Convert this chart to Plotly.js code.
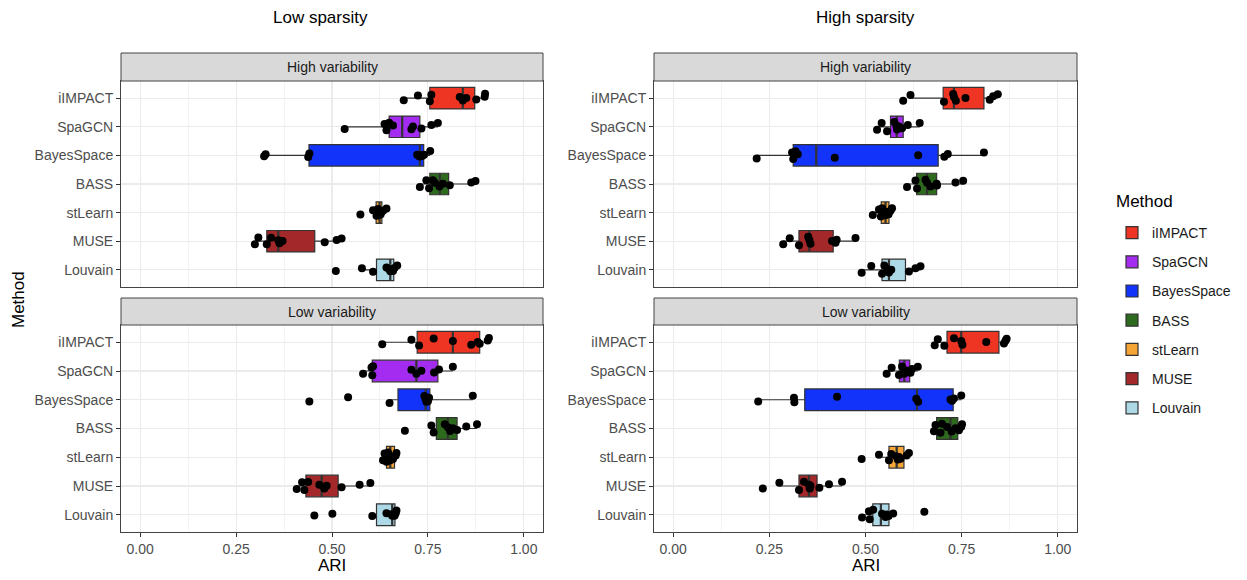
<!DOCTYPE html>
<html><head><meta charset="utf-8">
<script src="https://cdn.plot.ly/plotly-3.0.1.min.js"></script>
<style>html,body{margin:0;padding:0;background:#fff;} #chart{width:1247px;height:580px;}</style>
</head><body><div id="chart"></div>
<script>
// ---------------- DATA ----------------
const methods = ['iIMPACT','SpaGCN','BayesSpace','BASS','stLearn','MUSE','Louvain'];
const methodColors = ['#EE3524','#A32CF0','#1133FA','#2E6A1E','#F5A536','#A3282A','#ADD8E6'];
const xTickVals = [0, 0.25, 0.5, 0.75, 1];
const xTickText = ['0.00','0.25','0.50','0.75','1.00'];

// Low sparsity / High variability (ARI per replicate, method order as above)
const lowSpHighVarPoints = [
  [0.687,0.724,0.755,0.759,0.833,0.841,0.850,0.876,0.898,0.899],
  [0.533,0.637,0.642,0.649,0.659,0.707,0.711,0.733,0.759,0.776],
  [0.323,0.327,0.438,0.441,0.722,0.728,0.732,0.735,0.740,0.756],
  [0.729,0.746,0.753,0.763,0.768,0.780,0.789,0.807,0.863,0.874],
  [0.574,0.607,0.616,0.620,0.622,0.624,0.626,0.627,0.633,0.642],
  [0.299,0.308,0.330,0.341,0.360,0.363,0.371,0.481,0.512,0.525],
  [0.510,0.578,0.607,0.642,0.649,0.652,0.655,0.659,0.663,0.670]
];
const lowSpHighVarQ1     = [0.755,0.649,0.440,0.755,0.615,0.330,0.616];
const lowSpHighVarMedian = [0.841,0.683,0.729,0.781,0.624,0.360,0.652];
const lowSpHighVarQ3     = [0.872,0.729,0.739,0.804,0.630,0.455,0.661];
const lowSpHighVarLower  = [0.687,0.533,0.323,0.729,0.607,0.299,0.578];
const lowSpHighVarUpper  = [0.899,0.776,0.756,0.874,0.642,0.525,0.670];

// High sparsity / High variability
const highSpHighVarPoints = [
  [0.598,0.617,0.704,0.728,0.730,0.735,0.760,0.823,0.832,0.844],
  [0.530,0.542,0.556,0.575,0.580,0.582,0.587,0.595,0.610,0.641],
  [0.217,0.309,0.312,0.318,0.324,0.420,0.637,0.705,0.714,0.808],
  [0.608,0.630,0.634,0.656,0.660,0.669,0.685,0.686,0.734,0.754],
  [0.519,0.535,0.540,0.543,0.548,0.552,0.556,0.560,0.565,0.569],
  [0.286,0.303,0.327,0.351,0.354,0.357,0.413,0.422,0.425,0.474],
  [0.490,0.515,0.543,0.549,0.555,0.561,0.567,0.613,0.630,0.643]
];
const highSpHighVarQ1     = [0.702,0.565,0.312,0.633,0.541,0.327,0.543];
const highSpHighVarMedian = [0.730,0.581,0.372,0.660,0.552,0.354,0.561];
const highSpHighVarQ3     = [0.808,0.598,0.689,0.685,0.561,0.416,0.604];
const highSpHighVarLower  = [0.617,0.530,0.217,0.608,0.519,0.286,0.490];
const highSpHighVarUpper  = [0.844,0.641,0.808,0.754,0.569,0.474,0.643];

// Low sparsity / Low variability
const lowSpLowVarPoints = [
  [0.631,0.707,0.727,0.765,0.815,0.863,0.880,0.885,0.906,0.909],
  [0.581,0.603,0.605,0.607,0.707,0.720,0.733,0.766,0.779,0.815],
  [0.441,0.542,0.650,0.741,0.744,0.746,0.748,0.750,0.753,0.867],
  [0.690,0.759,0.765,0.794,0.802,0.808,0.815,0.826,0.850,0.878],
  [0.633,0.637,0.642,0.646,0.650,0.652,0.655,0.659,0.666,0.668],
  [0.408,0.422,0.428,0.438,0.467,0.480,0.486,0.525,0.572,0.600],
  [0.454,0.501,0.605,0.642,0.655,0.657,0.659,0.663,0.666,0.668]
];
const lowSpLowVarQ1     = [0.722,0.605,0.672,0.772,0.642,0.432,0.616];
const lowSpLowVarMedian = [0.815,0.720,0.744,0.802,0.652,0.473,0.657];
const lowSpLowVarQ3     = [0.885,0.776,0.755,0.826,0.663,0.516,0.664];
const lowSpLowVarLower  = [0.631,0.581,0.650,0.759,0.633,0.408,0.605];
const lowSpLowVarUpper  = [0.909,0.815,0.867,0.878,0.668,0.600,0.668];

// High sparsity / Low variability
const highSpLowVarPoints = [
  [0.680,0.688,0.705,0.730,0.749,0.752,0.814,0.860,0.864,0.867],
  [0.555,0.568,0.587,0.595,0.600,0.601,0.608,0.617,0.621,0.636],
  [0.221,0.314,0.315,0.426,0.632,0.637,0.721,0.725,0.730,0.749],
  [0.678,0.682,0.695,0.699,0.712,0.724,0.734,0.743,0.749,0.751],
  [0.490,0.535,0.561,0.567,0.580,0.584,0.587,0.591,0.607,0.613],
  [0.233,0.276,0.327,0.340,0.353,0.355,0.357,0.380,0.405,0.439],
  [0.491,0.509,0.511,0.520,0.543,0.552,0.556,0.560,0.572,0.653]
];
const highSpLowVarQ1     = [0.712,0.588,0.342,0.685,0.561,0.327,0.519];
const highSpLowVarMedian = [0.749,0.601,0.634,0.721,0.581,0.353,0.540];
const highSpLowVarQ3     = [0.847,0.615,0.728,0.740,0.600,0.374,0.561];
const highSpLowVarLower  = [0.680,0.555,0.221,0.678,0.535,0.276,0.491];
const highSpLowVarUpper  = [0.867,0.636,0.749,0.751,0.613,0.439,0.572];

// ---------------- LAYOUT HELPERS ----------------
const W = 1247, H = 580;
const FONT = 'Liberation Sans, Arial, Helvetica, sans-serif';
const px = v => v / W;
const py = v => 1 - v / H;
const leftX = [121, 543], rightX = [654, 1077];
const topY = [81, 287], botY = [325, 532];
const topStrip = [53, 81], botStrip = [298, 325];

const panels = [
  {xa:'x',  ya:'y',  xk:'xaxis',  yk:'yaxis',  xr:leftX,  yr:topY, strip:topStrip, label:'High variability', bottom:false,
   pts:lowSpHighVarPoints, q1:lowSpHighVarQ1, med:lowSpHighVarMedian, q3:lowSpHighVarQ3, lo:lowSpHighVarLower, hi:lowSpHighVarUpper},
  {xa:'x2', ya:'y2', xk:'xaxis2', yk:'yaxis2', xr:rightX, yr:topY, strip:topStrip, label:'High variability', bottom:false,
   pts:highSpHighVarPoints, q1:highSpHighVarQ1, med:highSpHighVarMedian, q3:highSpHighVarQ3, lo:highSpHighVarLower, hi:highSpHighVarUpper},
  {xa:'x3', ya:'y3', xk:'xaxis3', yk:'yaxis3', xr:leftX,  yr:botY, strip:botStrip, label:'Low variability', bottom:true,
   pts:lowSpLowVarPoints, q1:lowSpLowVarQ1, med:lowSpLowVarMedian, q3:lowSpLowVarQ3, lo:lowSpLowVarLower, hi:lowSpLowVarUpper},
  {xa:'x4', ya:'y4', xk:'xaxis4', yk:'yaxis4', xr:rightX, yr:botY, strip:botStrip, label:'Low variability', bottom:true,
   pts:highSpLowVarPoints, q1:highSpLowVarQ1, med:highSpLowVarMedian, q3:highSpLowVarQ3, lo:highSpLowVarLower, hi:highSpLowVarUpper}
];

const boxTraces = [], medianTraces = [], pointTraces = [];
const layout = {
  width: W, height: H,
  margin: {l:0, r:0, t:0, b:0},
  paper_bgcolor: '#fff', plot_bgcolor: '#fff',
  font: {family: FONT, color: '#1a1a1a'},
  boxmode: 'overlay',
  showlegend: true,
  legend: {
    x: px(1112), y: py(217), xanchor: 'left', yanchor: 'top',
    font: {size: 14, color: '#1a1a1a'},
    tracegroupgap: 8, bgcolor: 'rgba(0,0,0,0)', borderwidth: 0, traceorder: 'grouped'
  },
  shapes: [], annotations: []
};

panels.forEach((p, pi) => {
  methods.forEach((m, i) => {
    boxTraces.push({
      type: 'box', orientation: 'h', xaxis: p.xa, yaxis: p.ya,
      y: [m], q1: [p.q1[i]], median: [p.med[i]], q3: [p.q3[i]],
      lowerfence: [p.lo[i]], upperfence: [p.hi[i]],
      name: m, legendgroup: m, showlegend: pi === 0,
      fillcolor: methodColors[i], line: {color: '#333333', width: 1.2},
      whiskerwidth: 0, width: 0.75, boxpoints: false, hoverinfo: 'x'
    });
    // thicker median bar (as in ggplot's fatten)
    medianTraces.push({
      type: 'box', orientation: 'h', xaxis: p.xa, yaxis: p.ya,
      y: [m], q1: [p.med[i]], median: [p.med[i]], q3: [p.med[i]],
      lowerfence: [p.med[i]], upperfence: [p.med[i]],
      name: m, legendgroup: m, showlegend: false,
      fillcolor: 'rgba(0,0,0,0)', line: {color: '#333333', width: 2.2},
      whiskerwidth: 0, width: 0.75, boxpoints: false, hoverinfo: 'skip'
    });
    pointTraces.push({
      type: 'box', orientation: 'h', xaxis: p.xa, yaxis: p.ya,
      x: p.pts[i], y: p.pts[i].map(() => m),
      name: m, legendgroup: m, showlegend: false,
      boxpoints: 'all', jitter: 0.55, pointpos: 0, width: 0.75,
      fillcolor: 'rgba(0,0,0,0)', line: {color: 'rgba(0,0,0,0)', width: 0},
      marker: {color: '#000', size: 8, line: {width: 0}},
      hoveron: 'points'
    });
  });

  layout[p.xk] = {
    domain: [px(p.xr[0]), px(p.xr[1])], anchor: p.ya,
    range: [-0.05, 1.05], tickvals: xTickVals, ticktext: xTickText,
    showticklabels: p.bottom, ticks: p.bottom ? 'outside' : '', ticklen: 4, tickwidth: 1, tickcolor: '#333',
    tickfont: {size: 14, color: '#4d4d4d', family: FONT},
    showgrid: true, gridcolor: '#ebebeb', gridwidth: 1.1,
    minor: {tick0: 0.125, dtick: 0.25, showgrid: true, gridcolor: '#ebebeb', gridwidth: 0.55},
    zeroline: false, showline: true, mirror: true, linecolor: '#444', linewidth: 1,
    automargin: false, fixedrange: true
  };
  layout[p.yk] = {
    domain: [py(p.yr[1]), py(p.yr[0])], anchor: p.xa,
    type: 'category', categoryorder: 'array', categoryarray: methods,
    range: [6.6, -0.6],
    ticks: 'outside', ticklen: 4, tickwidth: 1, tickcolor: '#333',
    tickfont: {size: 14, color: '#4d4d4d', family: FONT},
    showgrid: true, gridcolor: '#ebebeb', gridwidth: 1.1,
    zeroline: false, showline: true, mirror: true, linecolor: '#444', linewidth: 1,
    automargin: false, fixedrange: true
  };

  // strip
  layout.shapes.push({
    type: 'rect', xref: 'paper', yref: 'paper',
    x0: px(p.xr[0]), x1: px(p.xr[1]), y0: py(p.strip[1]), y1: py(p.strip[0]),
    fillcolor: '#d9d9d9', line: {color: '#444', width: 1}, layer: 'above'
  });
  layout.annotations.push({
    xref: 'paper', yref: 'paper', x: px((p.xr[0] + p.xr[1]) / 2), y: py((p.strip[0] + p.strip[1]) / 2),
    text: p.label, showarrow: false, xanchor: 'center', yanchor: 'middle',
    font: {size: 14, color: '#1a1a1a', family: FONT}
  });
  if (p.bottom) {
    layout.annotations.push({
      xref: 'paper', yref: 'paper', x: px((p.xr[0] + p.xr[1]) / 2), y: py(565),
      text: 'ARI', showarrow: false, xanchor: 'center', yanchor: 'middle',
      font: {size: 17, color: '#000', family: FONT}
    });
  }
});

layout.annotations.push(
  {xref:'paper', yref:'paper', x: px(320), y: py(18), text: 'Low sparsity', showarrow: false,
   xanchor:'center', yanchor:'middle', font:{size:17, color:'#000', family: FONT}},
  {xref:'paper', yref:'paper', x: px(865), y: py(18), text: 'High sparsity', showarrow: false,
   xanchor:'center', yanchor:'middle', font:{size:17, color:'#000', family: FONT}},
  {xref:'paper', yref:'paper', x: px(18), y: py(300), text: 'Method', showarrow: false, textangle: -90,
   xanchor:'center', yanchor:'middle', font:{size:17, color:'#000', family: FONT}},
  {xref:'paper', yref:'paper', x: px(1114), y: py(202), text: 'Method', showarrow: false,
   xanchor:'left', yanchor:'middle', font:{size:17, color:'#000', family: FONT}}
);

Plotly.newPlot('chart', boxTraces.concat(medianTraces, pointTraces), layout, {displayModeBar: false, staticPlot: true});
</script></body></html>
